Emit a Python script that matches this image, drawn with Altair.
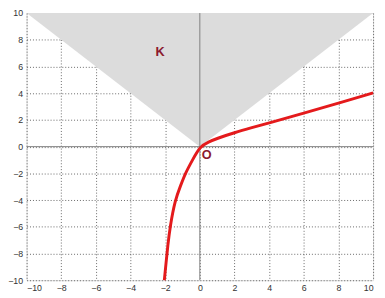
import altair as alt
import pandas as pd

# Red curve
curve_x = [-2.05, -1.95, -1.85, -1.72, -1.43, -1.12, -0.82, -0.41, 0.0, 0.5, 1.0, 2.0, 3.0, 4.0, 6.0, 8.0, 10.0]
curve_y = [-10.0, -8.7, -7.4, -6.0, -4.0, -2.95, -1.94, -0.97, 0.0, 0.35, 0.62, 1.05, 1.42, 1.78, 2.5, 3.25, 4.02]

# Cone K: y >= |x|
cone_x = [-10, 0, 10]
cone_y = [10, 0, 10]
cone_top = [10, 10, 10]

label_text = ["K", "O"]
label_x = [-2.3, 0.4]
label_y = [7.1, -0.6]

ticks = [-10, -8, -6, -4, -2, 0, 2, 4, 6, 8, 10]

curve = pd.DataFrame({"x": curve_x, "y": curve_y})
cone = pd.DataFrame({"x": cone_x, "y": cone_y, "y2": cone_top})
labels = pd.DataFrame({"t": label_text, "x": label_x, "y": label_y})

xs = alt.Scale(domain=[-10, 10], nice=False, zero=False)
ys = alt.Scale(domain=[-10, 10], nice=False, zero=False)

common = dict(values=ticks, grid=True, gridDash=[1, 2], gridColor="#555", gridOpacity=0.9,
              domain=False, ticks=False, labelFont="Liberation Sans", labelOverlap=False,
              labelFontSize=9, labelColor="#333", title=None, labelPadding=4)
X = alt.X("x:Q", scale=xs, axis=alt.Axis(**common))
Y = alt.Y("y:Q", scale=ys, axis=alt.Axis(**common))

base_area = alt.Chart(cone).mark_area(color="#dcdcdc", opacity=1).encode(
    x=X, y=Y, y2="y2:Q",
)

zero_v = alt.Chart(pd.DataFrame({"x": [0]})).mark_rule(color="#808080", strokeWidth=1).encode(x=X)
zero_h = alt.Chart(pd.DataFrame({"y": [0]})).mark_rule(color="#808080", strokeWidth=1).encode(y=Y)

line = alt.Chart(curve).mark_line(color="#e41a1c", strokeWidth=3, interpolate="basis").encode(
    x=X, y=Y, order="x:Q")

text = alt.Chart(labels).mark_text(color="#8b1a2e", fontWeight="bold", fontSize=13,
                                   font="Liberation Sans", align="center", baseline="middle").encode(
    x=X, y=Y, text="t:N")

chart = alt.layer(base_area, zero_v, zero_h, line, text).properties(
    width=354, height=273,
    autosize=alt.AutoSizeParams(type="none"),
    padding={"left": 19, "top": 2, "right": 4, "bottom": 15},
).configure_view(stroke="#444", strokeWidth=1).configure_axis(
    labelOverlap=False, labelFlush=False
).configure(background="white")

chart.save("out.html", embed_options={"renderer": "svg", "actions": False})
